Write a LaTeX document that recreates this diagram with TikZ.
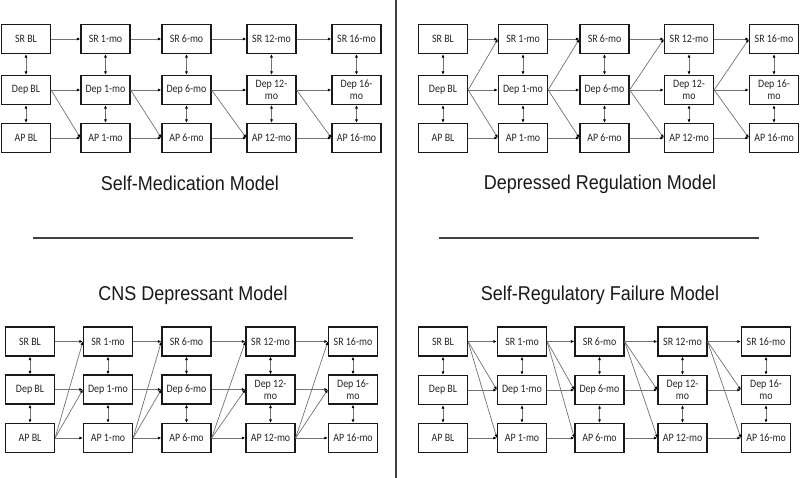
\documentclass[tikz,border=0pt]{standalone}
\usepackage{fontspec}
\setmainfont{Carlito}
\newfontfamily\boxfont[FakeStretch=0.88]{Carlito}
\newfontfamily\titlefont[FakeStretch=0.9]{Liberation Sans}
\usetikzlibrary{arrows.meta}
\newcommand\mkquad[9]{%
  \node[box] (#1s0) at (#2,#7) {SR BL};
  \node[box] (#1s1) at (#3,#7) {SR 1-mo};
  \node[box] (#1s2) at (#4,#7) {SR 6-mo};
  \node[box] (#1s3) at (#5,#7) {SR 12-mo};
  \node[box] (#1s4) at (#6,#7) {SR 16-mo};
  \node[box] (#1d0) at (#2,#8) {Dep BL};
  \node[box] (#1d1) at (#3,#8) {Dep 1-mo};
  \node[box] (#1d2) at (#4,#8) {Dep 6-mo};
  \node[box] (#1d3) at (#5,#8) {Dep 12-\\mo};
  \node[box] (#1d4) at (#6,#8) {Dep 16-\\mo};
  \node[box] (#1a0) at (#2,#9) {AP BL};
  \node[box] (#1a1) at (#3,#9) {AP 1-mo};
  \node[box] (#1a2) at (#4,#9) {AP 6-mo};
  \node[box] (#1a3) at (#5,#9) {AP 12-mo};
  \node[box] (#1a4) at (#6,#9) {AP 16-mo};
  \foreach \i in {0,...,4}{%
    \draw[biconn] (#1s\i) -- (#1d\i);
    \draw[biconn] (#1d\i) -- (#1a\i);
  }%
  \foreach \i [evaluate=\i as \j using int(\i+1)] in {0,...,3}{%
    \foreach \r in {s,d,a}{\draw[conn] (#1\r\i.east) -- (#1\r\j.west);}%
  }%
}
\begin{document}
\begin{tikzpicture}[x=1pt,y=-1pt,
  box/.style={draw=black!90, line width=1.2pt, minimum width=49pt, minimum height=29pt,
    inner sep=1pt, align=center, text=black!85, font=\boxfont\fontsize{11.3}{12}\selectfont},
  conn/.style={draw=black!55, line width=0.7pt, -{Latex[length=3.5pt,width=3pt,color=black]}},
  biconn/.style={draw=black!55, line width=0.7pt, {Latex[length=3.5pt,width=3pt,color=black]}-{Latex[length=3.5pt,width=3pt,color=black]}},
  ttl/.style={font=\titlefont\fontsize{20}{22}\selectfont, anchor=base, inner sep=0pt, text=black!90},
  sep/.style={draw=black!75, line width=1.1pt}]
\useasboundingbox (0,0) rectangle (800,478);
\fill[white] (0,0) rectangle (800,478);
% quadrants
\mkquad{p}{26}{105.5}{186.5}{271.5}{356.5}{39}{90}{138}
\mkquad{q}{443}{523}{604.5}{689}{774}{39}{90}{138}
\mkquad{r}{30}{108}{186.5}{270.5}{353}{341.5}{389.5}{438}
\mkquad{t}{443}{522}{599.5}{682.5}{766}{341.5}{390}{438}
% cross-lagged paths
\foreach \i [evaluate=\i as \j using int(\i+1)] in {0,...,3}{
  \draw[conn] (pd\i.east) -- (pa\j.west);
  \draw[conn] (qd\i.east) -- (qs\j.west);
  \draw[conn] (qd\i.east) -- (qa\j.west);
  \draw[conn] (ra\i.east) -- (rs\j.west);
  \draw[conn] (ra\i.east) -- (rd\j.west);
  \draw[conn] (ts\i.east) -- (td\j.west);
  \draw[conn] (ts\i.east) -- (ta\j.west);
}
% titles
\node[ttl] (tp) at (190,191) {Self-Medication Model};
\node[ttl] (tq) at (600,190) {Depressed Regulation Model};
\node[ttl] (tr) at (193,301) {CNS Depressant Model};
\node[ttl] (tt) at (600,301) {Self-Regulatory Failure Model};
% separators
\coordinate (v1) at (396,0);
\coordinate (v2) at (396,478);
\coordinate (h1a) at (33,238);
\coordinate (h1b) at (353,238);
\coordinate (h2a) at (439,238);
\coordinate (h2b) at (759,238);
\draw[sep] (v1) -- (v2);
\draw[sep] (h1a) -- (h1b);
\draw[sep] (h2a) -- (h2b);
\end{tikzpicture}
\end{document}
